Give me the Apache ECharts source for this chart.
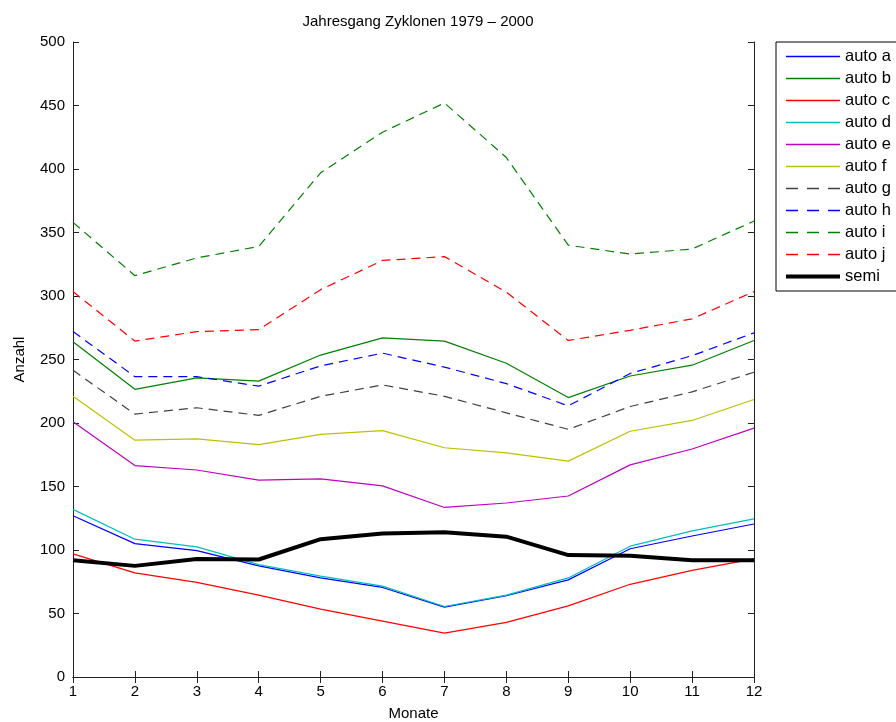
<!DOCTYPE html>
<html>
<head>
<meta charset="utf-8">
<script src="https://cdn.jsdelivr.net/npm/echarts@6/dist/echarts.min.js"></script>
<style>
  html, body { margin: 0; padding: 0; background: #fff; }
  #chart { width: 896px; height: 722px; }
</style>
</head>
<body>
<div id="chart"></div>
<script>
// Monthly cyclone counts 1979-2000
const months = [1, 2, 3, 4, 5, 6, 7, 8, 9, 10, 11, 12];
const autoA = [127, 105, 99.5, 87.5, 78, 70.5, 55, 64, 76.5, 101, 111, 120.5];
const autoB = [264, 226.5, 235.5, 233, 253.5, 267, 264.5, 247, 220, 237, 245.5, 265];
const autoC = [97, 82, 74.5, 64.5, 53.5, 44, 34.5, 43, 56, 73, 84, 93];
const autoD = [132, 108.5, 102.5, 88.5, 79.5, 71.5, 55.5, 64.5, 78, 103, 115, 124.5];
const autoE = [201, 166.5, 163, 155, 156, 150.5, 133.5, 137, 142.5, 167, 179.5, 196];
const autoF = [221, 186.5, 187.5, 183, 191, 194, 180.5, 176.5, 170, 193.5, 202, 218.5];
const autoG = [241.5, 207, 212, 206, 221, 230, 221, 208, 195, 213, 224.5, 240];
const autoH = [272, 236.5, 236.5, 229, 245, 255, 244, 231, 213.5, 239, 253, 271];
const autoI = [358, 316, 330, 339, 397, 429, 452, 409, 340, 333, 337, 359];
const autoJ = [303.5, 264.5, 272, 273.5, 305, 328, 331, 303, 265, 273, 282, 303.5];
const semi  = [92, 87.5, 93, 92.5, 108.5, 113, 114, 110.5, 96, 95.5, 92, 92];

// Legend glyphs: a plain stroke, a dashed stroke and a thick stroke
const ICON_SOLID = 'path://M0,0h54v1.4h-54z';
const ICON_DASH = 'path://M0,0h12v1.4h-12z M21,0h12v1.4h-12z M42,0h12v1.4h-12z';
const ICON_THICK = 'path://M0,0h54v4h-54z';

const seriesDefs = [
  { name: 'auto a', data: autoA, color: '#0000ff', type: 'solid', width: 1.2, icon: ICON_SOLID },
  { name: 'auto b', data: autoB, color: '#008000', type: 'solid', width: 1.2, icon: ICON_SOLID },
  { name: 'auto c', data: autoC, color: '#ff0000', type: 'solid', width: 1.2, icon: ICON_SOLID },
  { name: 'auto d', data: autoD, color: '#00bfbf', type: 'solid', width: 1.2, icon: ICON_SOLID },
  { name: 'auto e', data: autoE, color: '#bf00bf', type: 'solid', width: 1.2, icon: ICON_SOLID },
  { name: 'auto f', data: autoF, color: '#bfbf00', type: 'solid', width: 1.2, icon: ICON_SOLID },
  { name: 'auto g', data: autoG, color: '#404040', type: [9, 6], width: 1.2, icon: ICON_DASH },
  { name: 'auto h', data: autoH, color: '#0000ff', type: [9, 6], width: 1.2, icon: ICON_DASH },
  { name: 'auto i', data: autoI, color: '#008000', type: [9, 6], width: 1.2, icon: ICON_DASH },
  { name: 'auto j', data: autoJ, color: '#ff0000', type: [9, 6], width: 1.2, icon: ICON_DASH },
  { name: 'semi',   data: semi,  color: '#000000', type: 'solid', width: 4, icon: ICON_THICK }
];

const font = 'Liberation Sans, Arial, Helvetica, sans-serif';
const chart = echarts.init(document.getElementById('chart'), null, { renderer: 'canvas' });

const axisLine = { show: true, lineStyle: { color: '#222', width: 1 } };
const axisTick = { show: true, inside: true, length: 6, lineStyle: { color: '#222' } };

chart.setOption({
  animation: false,
  backgroundColor: '#fff',
  title: {
    text: 'Jahresgang Zyklonen 1979 – 2000',
    left: 413, top: 9, textAlign: 'center',
    textStyle: { fontFamily: font, fontSize: 15, fontWeight: 'normal', color: '#000' }
  },
  grid: { left: 73, right: 142, top: 42, bottom: 45, outerBoundsMode: 'none', containLabel: false },
  legend: {
    orient: 'vertical',
    left: 776, top: 42,
    data: seriesDefs.map(s => ({ name: s.name, icon: s.icon })),
    itemWidth: 54, itemHeight: 12, itemGap: 5,
    itemStyle: { borderWidth: 0 },
    padding: [6, 60, 6, 10],
    borderColor: '#000', borderWidth: 1, backgroundColor: '#fff',
    textStyle: { fontFamily: font, fontSize: 16.5, color: '#000' }
  },
  xAxis: [
    {
      type: 'value', min: 1, max: 12, interval: 1, position: 'bottom',
      name: 'Monate', nameLocation: 'middle', nameGap: 29,
      nameTextStyle: { fontFamily: font, fontSize: 15, color: '#000' },
      axisLine, axisTick,
      axisLabel: { fontFamily: font, fontSize: 15, color: '#000', margin: 7 },
      splitLine: { show: false }
    },
    {
      type: 'value', min: 1, max: 12, interval: 1, position: 'top',
      axisLine, axisTick, axisLabel: { show: false }, splitLine: { show: false }
    }
  ],
  yAxis: [
    {
      type: 'value', min: 0, max: 500, interval: 50, position: 'left',
      name: 'Anzahl', nameLocation: 'middle', nameGap: 46,
      nameTextStyle: { fontFamily: font, fontSize: 15, color: '#000' },
      axisLine, axisTick,
      axisLabel: { fontFamily: font, fontSize: 15, color: '#000', margin: 8 },
      splitLine: { show: false }
    },
    {
      type: 'value', min: 0, max: 500, interval: 50, position: 'right',
      axisLine, axisTick, axisLabel: { show: false }, splitLine: { show: false }
    }
  ],
  series: seriesDefs.map(s => ({
    name: s.name,
    type: 'line',
    data: months.map((m, i) => [m, s.data[i]]),
    showSymbol: false,
    symbol: 'none',
    color: s.color,
    lineStyle: { color: s.color, width: s.width, type: s.type },
    z: s.name === 'semi' ? 3 : 2
  }))
});
</script>
</body>
</html>
